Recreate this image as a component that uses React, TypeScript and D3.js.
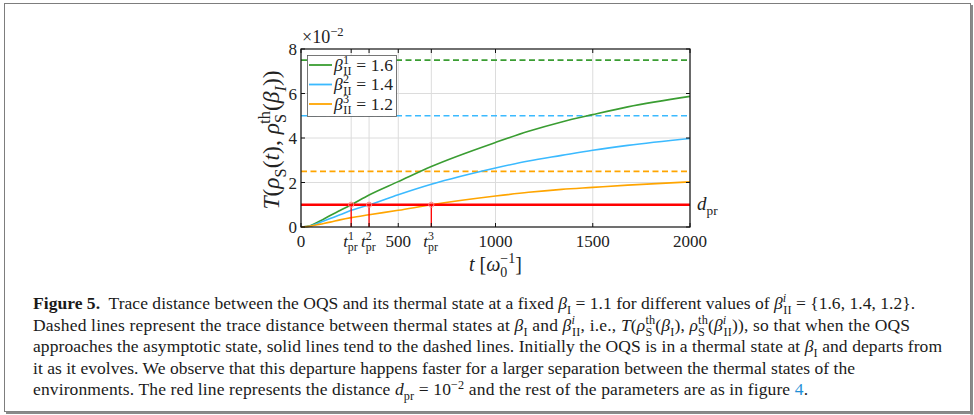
import React from "react";
import * as d3 from "d3";

// ---------- data ----------
const tValues = [0, 50, 100, 150, 200, 258, 350, 500, 670, 1000, 1170, 1340, 1500, 1680, 2000];
const greenValues = [0, 0.07, 0.28, 0.52, 0.74, 1.0, 1.44, 2.04, 2.72, 3.8, 4.3, 4.72, 5.05, 5.4, 5.87];
const blueValues = [0, 0.05, 0.21, 0.38, 0.55, 0.75, 1.0, 1.45, 1.92, 2.65, 2.97, 3.22, 3.45, 3.67, 3.98];
const orangeValues = [0, 0.04, 0.13, 0.22, 0.32, 0.42, 0.55, 0.75, 1.0, 1.39, 1.56, 1.69, 1.78, 1.88, 2.03];
const asymptotes = [7.5, 5.0, 2.5];
const betaLabels = ["1.6", "1.4", "1.2"];
const seriesSup = ["1", "2", "3"];
const dPr = 1.0;
const tPr = [258, 350, 670];
const xNumTicks = [0, 500, 1000, 1500, 2000];
const yTicks = [0, 2, 4, 6, 8];

const COLORS = ["#3a9d32", "#3bbaff", "#ffa500"];
const RED = "#ff0000";
const SERIF = "'Liberation Serif', 'DejaVu Serif', serif";

type Seg = { t: string; i?: boolean; b?: boolean; s?: "sub" | "sup"; dx?: number; c?: string };

function Rich(props: {
  x: number; y: number; segs: Seg[]; fs: number; anchor?: string;
  textLength?: number; transform?: string; fill?: string;
}) {
  const { x, y, segs, fs, anchor, textLength, transform, fill } = props;
  let cur = 0;
  const kids = segs.map((s, k) => {
    const target = s.s === "sub" ? fs * 0.28 : s.s === "sup" ? -fs * 0.38 : 0;
    const dy = target - cur;
    cur = target;
    return (
      <tspan
        key={k}
        dy={dy !== 0 ? dy : undefined}
        dx={s.dx}
        fontStyle={s.i ? "italic" : "normal"}
        fontWeight={s.b ? "bold" : "normal"}
        fontSize={s.s ? fs * 0.7 : fs}
        fill={s.c}
      >
        {s.t}
      </tspan>
    );
  });
  return (
    <text
      x={x}
      y={y}
      fontSize={fs}
      fontFamily={SERIF}
      textAnchor={anchor || "start"}
      textLength={textLength}
      lengthAdjust={textLength ? "spacing" : undefined}
      transform={transform}
      fill={fill || "#222"}
      style={{ whiteSpace: "pre" }}
    >
      {kids}
    </text>
  );
}

const captionLines: Seg[][] = [
  [
    { t: "Figure 5.", b: true },
    { t: "  Trace distance between the OQS and its thermal state at a fixed " },
    { t: "β", i: true }, { t: "I", s: "sub" },
    { t: " = 1.1 for different values of " },
    { t: "β", i: true }, { t: "i", s: "sup", i: true }, { t: "II", s: "sub", dx: -3 },
    { t: " = {1.6, 1.4, 1.2}." },
  ],
  [
    { t: "Dashed lines represent the trace distance between thermal states at " },
    { t: "β", i: true }, { t: "I", s: "sub" },
    { t: " and " },
    { t: "β", i: true }, { t: "i", s: "sup", i: true }, { t: "II", s: "sub", dx: -3 },
    { t: ", i.e., " },
    { t: "T", i: true }, { t: "(" }, { t: "ρ", i: true }, { t: "S", s: "sub" }, { t: "th", s: "sup", dx: -7 },
    { t: "(" }, { t: "β", i: true }, { t: "I", s: "sub" }, { t: "), " },
    { t: "ρ", i: true }, { t: "S", s: "sub" }, { t: "th", s: "sup", dx: -7 },
    { t: "(" }, { t: "β", i: true }, { t: "i", s: "sup", i: true }, { t: "II", s: "sub", dx: -3 },
    { t: ")), so that when the OQS" },
  ],
  [
    { t: "approaches the asymptotic state, solid lines tend to the dashed lines. Initially the OQS is in a thermal state at " },
    { t: "β", i: true }, { t: "I", s: "sub" },
    { t: " and departs from" },
  ],
  [
    { t: "it as it evolves. We observe that this departure happens faster for a larger separation between the thermal states of the" },
  ],
  [
    { t: "environments. The red line represents the distance " },
    { t: "d", i: true }, { t: "pr", s: "sub" },
    { t: " = 10" }, { t: "−2", s: "sup" },
    { t: " and the rest of the parameters are as in figure " },
    { t: "4", c: "#1f8fd6" }, { t: "." },
  ],
];
const captionWidths = [882, 877, 909, 822, 775];

export default function App() {
  const W = 974, H = 415;
  const left = 301, right = 690, top = 49, bottom = 227;
  const x = d3.scaleLinear().domain([0, 2000]).range([left, right]);
  const y = d3.scaleLinear().domain([0, 8]).range([bottom, top]);
  const series = [greenValues, blueValues, orangeValues];
  const line = d3
    .line<number>()
    .x((_, i) => x(tValues[i]))
    .y((d) => y(d))
    .curve(d3.curveMonotoneX);

  const allXTicks = [...xNumTicks, ...tPr];

  return (
    <svg
      width={W}
      height={H}
      style={{ position: "absolute", left: 0, top: 0, background: "#fff" }}
    >
      {/* frame with shadow */}
      <rect x={4.5} y={3.5} width={966} height={408} fill="none" stroke="#7d7d7d" strokeWidth={1} />
      <rect x={970.5} y={5} width={2.5} height={409.5} fill="#8a8a8a" />
      <rect x={6} y={411.5} width={967} height={2.5} fill="#8a8a8a" />

      {/* grid */}
      {allXTicks.map((t) => (
        <line key={"gx" + t} x1={x(t)} x2={x(t)} y1={top} y2={bottom} stroke="#dcdcdc" strokeWidth={1} />
      ))}
      {yTicks.slice(1, -1).map((v) => (
        <line key={"gy" + v} x1={left} x2={right} y1={y(v)} y2={y(v)} stroke="#dcdcdc" strokeWidth={1} />
      ))}

      {/* dashed asymptotes */}
      {asymptotes.map((v, k) => (
        <line
          key={"as" + k}
          x1={left}
          x2={right}
          y1={y(v)}
          y2={y(v)}
          stroke={COLORS[k]}
          strokeWidth={1.6}
          strokeDasharray="6,3.5"
        />
      ))}

      {/* curves */}
      {series.map((s, k) => (
        <path key={"s" + k} d={line(s) || ""} fill="none" stroke={COLORS[k]} strokeWidth={1.6} />
      ))}

      {/* red distance line */}
      <line x1={left} x2={right} y1={y(dPr)} y2={y(dPr)} stroke={RED} strokeWidth={2.4} />
      {tPr.map((t) => (
        <g key={"tp" + t}>
          <line x1={x(t)} x2={x(t)} y1={y(dPr)} y2={y(0)} stroke={RED} strokeWidth={1.3} />
          <circle cx={x(t)} cy={y(dPr)} r={2.6} fill="none" stroke="#ff8a8a" strokeWidth={1} />
        </g>
      ))}

      {/* box */}
      <rect x={left} y={top} width={right - left} height={bottom - top} fill="none" stroke="#111" strokeWidth={1.2} />
      {/* ticks */}
      {allXTicks.map((t) => (
        <g key={"tk" + t}>
          <line x1={x(t)} x2={x(t)} y1={bottom} y2={bottom - 4} stroke="#111" strokeWidth={1} />
          <line x1={x(t)} x2={x(t)} y1={top} y2={top + 4} stroke="#111" strokeWidth={1} />
        </g>
      ))}
      {yTicks.map((v) => (
        <g key={"yk" + v}>
          <line x1={left} x2={left + 4} y1={y(v)} y2={y(v)} stroke="#111" strokeWidth={1} />
          <line x1={right} x2={right - 4} y1={y(v)} y2={y(v)} stroke="#111" strokeWidth={1} />
        </g>
      ))}

      {/* tick labels */}
      {xNumTicks.map((t) => (
        <text key={"xl" + t} x={x(t)} y={246.5} fontSize={17} fontFamily={SERIF} textAnchor="middle" fill="#222">
          {t}
        </text>
      ))}
      {tPr.map((t, k) => (
        <Rich
          key={"tpl" + t}
          x={x(t) - 8}
          y={246.5}
          fs={17}
          segs={[{ t: "t", i: true }, { t: seriesSup[k], s: "sup" }, { t: "pr", s: "sub", dx: -6 }]}
        />
      ))}
      {yTicks.map((v) => (
        <text key={"yl" + v} x={297} y={y(v) + 6} fontSize={17} fontFamily={SERIF} textAnchor="end" fill="#222">
          {v}
        </text>
      ))}
      <Rich x={302} y={43} fs={18} segs={[{ t: "×10" }, { t: "−2", s: "sup" }]} />

      {/* axis labels */}
      <Rich
        x={469}
        y={271}
        fs={20}
        segs={[{ t: "t", i: true }, { t: " [" }, { t: "ω", i: true }, { t: "0", s: "sub" }, { t: "−1", s: "sup", dx: -7 }, { t: "]" }]}
      />
      <Rich
        x={0}
        y={0}
        fs={23.5}
        anchor="middle"
        transform={`translate(279,${140}) rotate(-90)`}
        segs={[
          { t: "T", i: true }, { t: "(" }, { t: "ρ", i: true }, { t: "S", s: "sub" }, { t: "(" }, { t: "t", i: true },
          { t: "), " }, { t: "ρ", i: true }, { t: "S", s: "sub" }, { t: "th", s: "sup", dx: -10 },
          { t: "(" }, { t: "β", i: true }, { t: "I", s: "sub", i: true }, { t: "))" },
        ]}
      />
      <Rich x={697} y={210} fs={19} segs={[{ t: "d", i: true }, { t: "pr", s: "sub" }]} />

      {/* legend */}
      <rect x={307.5} y={55.5} width={89} height={61} fill="#fff" stroke="#555" strokeWidth={0.8} />
      {betaLabels.map((b, k) => {
        const yy = 65 + k * 19.5;
        return (
          <g key={"lg" + k}>
            <line x1={309} x2={332} y1={yy} y2={yy} stroke={COLORS[k]} strokeWidth={1.8} />
            <Rich
              x={334}
              y={yy + 5.5}
              fs={17.5}
              textLength={59}
              segs={[{ t: "β", i: true }, { t: seriesSup[k], s: "sup" }, { t: "II", s: "sub", dx: -6 }, { t: " = " + b }]}
            />
          </g>
        );
      })}

      {/* caption */}
      {captionLines.map((segs, k) => (
        <Rich key={"cap" + k} x={33} y={309 + k * 21.6} fs={17.5} segs={segs} textLength={captionWidths[k]} fill="#1a1a1a" />
      ))}
    </svg>
  );
}
